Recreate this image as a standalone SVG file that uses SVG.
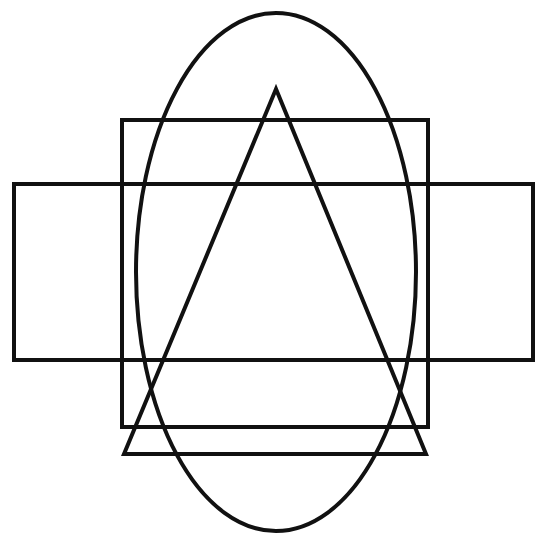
<svg xmlns="http://www.w3.org/2000/svg" width="535" height="536" viewBox="0 0 535 536">
<style>
.s{fill:none;stroke:#111;stroke-width:4;stroke-linejoin:miter}
</style>
<rect width="535" height="536" fill="#fff"/>
<g id="wide-rect"><rect class="s" x="14" y="184" width="519" height="176"/></g>
<g id="tall-rect"><rect class="s" x="122" y="120" width="306" height="307"/></g>
<g id="triangle"><polygon class="s" points="276,89 124,454 426,454"/></g>
<g id="ellipse"><ellipse class="s" cx="276" cy="272" rx="140" ry="259"/></g>
<g id="connectors"/>
</svg>
